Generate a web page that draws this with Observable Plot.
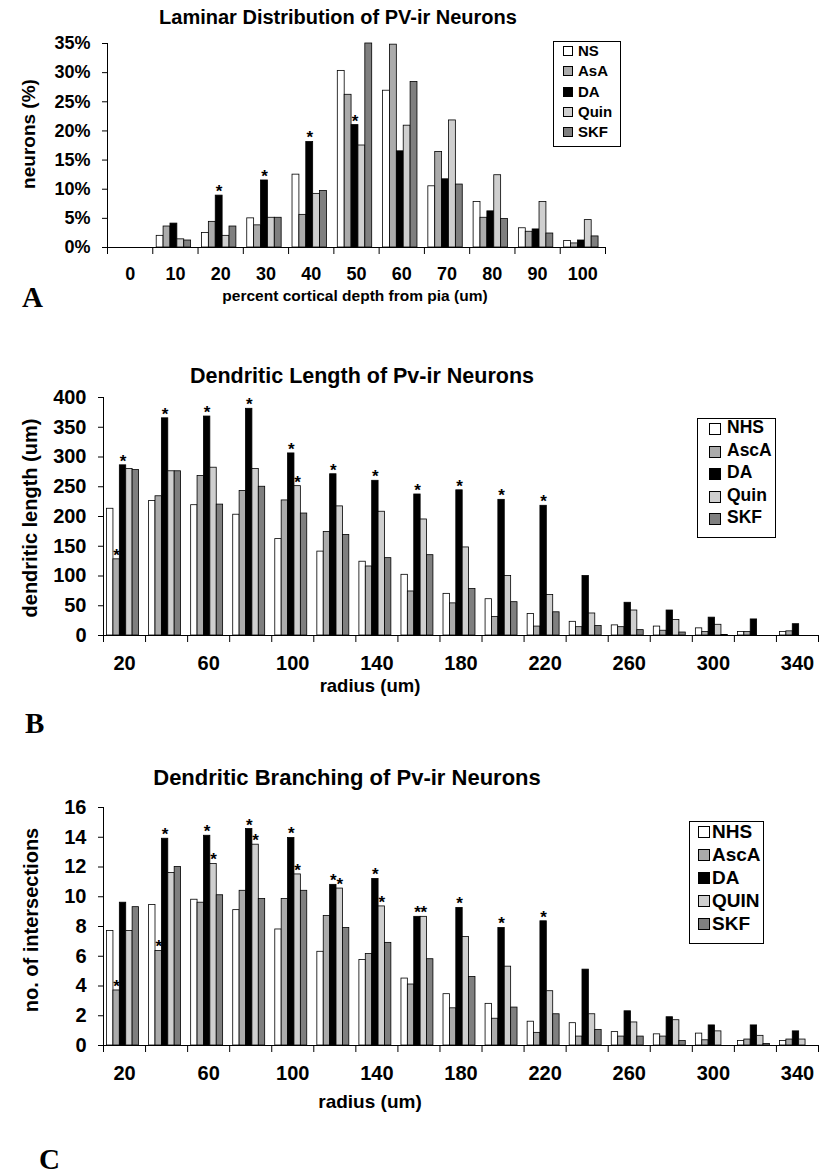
<!DOCTYPE html>
<html><head><meta charset="utf-8">
<script src="https://cdn.jsdelivr.net/npm/d3@7"></script>
<script src="https://cdn.jsdelivr.net/npm/@observablehq/plot@0.6"></script>
<style>
body{margin:0;background:#fff;}
#fig{position:relative;width:825px;height:1174px;overflow:hidden;font-family:"Liberation Sans",Arial,sans-serif;font-weight:bold;color:#000;background:#fff;}
.t{position:absolute;white-space:nowrap;line-height:1;transform:translate(-50%,-50%);}
.l{position:absolute;white-space:nowrap;line-height:1;transform:translate(0,-50%);}
.legend{position:absolute;border:1px solid #000;box-sizing:border-box;background:#fff;}
.sw{position:absolute;border:1px solid #000;box-sizing:border-box;}
</style></head><body><div id="fig"></div>
<script>
// ---------- Panel A: Laminar distribution ----------
const catsA = [0, 10, 20, 30, 40, 50, 60, 70, 80, 90, 100];
const seriesA = ["NS", "AsA", "DA", "Quin", "SKF"];
const nsA   = [0, 2.0, 2.5, 5.0, 12.5, 30.3, 26.9, 10.5, 7.8, 3.3, 1.1];
const asaA  = [0, 3.6, 4.4, 3.8, 5.6, 26.2, 34.8, 16.4, 5.1, 2.7, 0.7];
const daA   = [0, 4.1, 8.9, 11.5, 18.1, 21.0, 16.5, 11.7, 6.2, 3.1, 1.2];
const quinA = [0, 1.4, 2.0, 5.1, 9.2, 17.5, 20.9, 21.8, 12.4, 7.8, 4.7];
const skfA  = [0, 1.2, 3.6, 5.1, 9.7, 35.0, 28.4, 10.8, 4.9, 2.4, 1.9];
const yTicksA = [0, 5, 10, 15, 20, 25, 30, 35];
const xLabelsA = [0, 10, 20, 30, 40, 50, 60, 70, 80, 90, 100];
const starsA = [[20, "DA"], [30, "DA"], [40, "DA"], [50, "DA"]];

// ---------- Panel B: Dendritic length ----------
const catsB = [20, 40, 60, 80, 100, 120, 140, 160, 180, 200, 220, 240, 260, 280, 300, 320, 340];
const seriesB = ["NHS", "AscA", "DA", "Quin", "SKF"];
const nhsB  = [213, 226, 219, 203, 162, 141, 124, 102, 70, 61, 36, 23, 17, 15, 12, 6, 6];
const ascaB = [128, 234, 268, 243, 227, 174, 116, 74, 54, 31, 15, 14, 14, 8, 6, 6, 7];
const daB   = [286, 365, 368, 381, 306, 271, 260, 237, 244, 228, 218, 100, 55, 42, 30, 27, 19];
const quinB = [280, 276, 282, 280, 251, 217, 208, 195, 148, 100, 68, 37, 42, 26, 18, 0, 0];
const skfB  = [278, 276, 220, 250, 205, 169, 130, 135, 78, 56, 39, 16, 9, 5, 1, 0, 0];
const yTicksB = [0, 50, 100, 150, 200, 250, 300, 350, 400];
const xLabelsB = [20, 60, 100, 140, 180, 220, 260, 300, 340];
const starsB = [[20, "AscA"], [20, "DA"], [40, "DA"], [60, "DA"], [80, "DA"], [100, "DA"], [100, "Quin"],
  [120, "DA"], [140, "DA"], [160, "DA"], [180, "DA"], [200, "DA"], [220, "DA"]];

// ---------- Panel C: Dendritic branching ----------
const catsC = [20, 40, 60, 80, 100, 120, 140, 160, 180, 200, 220, 240, 260, 280, 300, 320, 340];
const seriesC = ["NHS", "AscA", "DA", "QUIN", "SKF"];
const nhsC  = [7.7, 9.45, 9.8, 9.1, 7.8, 6.3, 5.75, 4.5, 3.45, 2.8, 1.6, 1.5, 0.9, 0.75, 0.8, 0.3, 0.3];
const ascaC = [3.7, 6.35, 9.6, 10.4, 9.85, 8.7, 6.15, 4.1, 2.5, 1.8, 0.85, 0.6, 0.6, 0.6, 0.35, 0.4, 0.4];
const daC   = [9.6, 13.9, 14.1, 14.55, 13.95, 10.8, 11.2, 8.65, 9.25, 7.9, 8.35, 5.1, 2.3, 1.9, 1.35, 1.35, 0.95];
const quinC = [7.7, 11.6, 12.2, 13.5, 11.5, 10.55, 9.35, 8.65, 7.3, 5.3, 3.65, 2.1, 1.55, 1.7, 0.95, 0.65, 0.4];
const skfC  = [9.3, 12.0, 10.1, 9.85, 10.4, 7.9, 6.9, 5.8, 4.6, 2.55, 2.1, 1.05, 0.6, 0.3, 0, 0.1, 0];
const yTicksC = [0, 2, 4, 6, 8, 10, 12, 14, 16];
const xLabelsC = [20, 60, 100, 140, 180, 220, 260, 300, 340];
const starsC = [[20, "AscA"], [40, "AscA"], [40, "DA"], [60, "DA"], [60, "QUIN"], [80, "DA"], [80, "QUIN"],
  [100, "DA"], [100, "QUIN"], [120, "DA"], [120, "QUIN"], [140, "DA"], [140, "QUIN"],
  [160, "DA"], [160, "QUIN"], [180, "DA"], [200, "DA"], [220, "DA"]];

// ---------- styles ----------
const fills = ["#ffffff", "#ababab", "#000000", "#cfcfcf", "#7f7f7f"];
const FONT = '"Liberation Sans", Arial, sans-serif';
const fig = document.getElementById("fig");

function panel(o) {
  const {top, height, x0, x1, yTop, yBase, cats, step, series, values, yMax, yTicks, yFmt, xLabels, stars, fs, xPad} = o;
  const rows = cats.flatMap((c, j) => series.map((s, i) => ({cat: c, series: s, value: values[i][j]})));
  const lookup = new Map(rows.map(r => [r.cat + "|" + r.series, r.value]));
  const starRows = stars.map(([c, s]) => ({cat: c, series: s, value: lookup.get(c + "|" + s)}));
  const xDomain = [cats[0] - step / 2, cats[cats.length - 1] + step / 2];
  const bounds = cats.map(c => c - step / 2).concat([xDomain[1]]);
  const stepPx = (x1 - x0) / cats.length;
  const bw = stepPx * 0.152;
  const off = -1.5;
  const marks = [];
  series.forEach((s, i) => {
    marks.push(Plot.rectY(rows.filter(r => r.series === s), {
      x1: "cat", x2: "cat", y1: 0, y2: "value",
      fill: fills[i], stroke: "#000", strokeWidth: 0.8,
      insetLeft: (i - 2.5) * bw + off, insetRight: -((i - 1.5) * bw + off)
    }));
  });
  series.forEach((s, i) => {
    const sr = starRows.filter(r => r.series === s);
    if (sr.length) marks.push(Plot.text(sr, {
      x: "cat", y: "value", text: () => "*", dx: (i - 2) * bw + off, dy: -4,
      fontSize: 17, fontWeight: "bold", fill: "#000"
    }));
  });
  marks.push(Plot.ruleY([0], {stroke: "#000", strokeWidth: 1}));
  marks.push(Plot.ruleX([xDomain[0]], {stroke: "#000", strokeWidth: 1}));
  marks.push(Plot.axisY({ticks: yTicks, tickFormat: yFmt, tickSize: 5, tickPadding: 12, fontSize: fs, label: null}));
  marks.push(Plot.axisX({ticks: xLabels, tickFormat: d => String(d), tickSize: 0, tickPadding: xPad, fontSize: fs, label: null}));
  marks.push(Plot.axisX({ticks: bounds, tickFormat: () => "", tickSize: 7, label: null}));
  const svg = Plot.plot({
    width: 825, height,
    marginLeft: x0, marginRight: 825 - x1,
    marginTop: yTop - top, marginBottom: top + height - yBase,
    x: {type: "linear", domain: xDomain},
    y: {domain: [0, yMax]},
    style: {fontFamily: FONT, fontWeight: "bold", background: "transparent", overflow: "visible", color: "#000"},
    marks
  });
  svg.style.position = "absolute";
  svg.style.left = "0px";
  svg.style.top = top + "px";
  fig.appendChild(svg);
}

function text(str, cx, cy, size, opts = {}) {
  const d = document.createElement("div");
  d.className = "t";
  d.textContent = str;
  d.style.left = cx + "px";
  d.style.top = cy + "px";
  d.style.fontSize = size + "px";
  if (opts.rotate) d.style.transform = "translate(-50%,-50%) rotate(-90deg)";
  if (opts.serif) d.style.fontFamily = '"Liberation Serif", "Times New Roman", serif';
  if (opts.left) { d.className = "l"; }
  fig.appendChild(d);
}

function legend(names, box, itemY0, spacing, swLeft, swSize, textLeft, size) {
  const b = document.createElement("div");
  b.className = "legend";
  b.style.left = box[0] + "px"; b.style.top = box[1] + "px";
  b.style.width = (box[2] - box[0]) + "px"; b.style.height = (box[3] - box[1]) + "px";
  fig.appendChild(b);
  names.forEach((n, i) => {
    const cy = itemY0 + i * spacing;
    const s = document.createElement("div");
    s.className = "sw";
    s.style.left = swLeft + "px"; s.style.top = (cy - swSize / 2 + 1) + "px";
    s.style.width = swSize + "px"; s.style.height = swSize + "px";
    s.style.background = fills[i];
    fig.appendChild(s);
    text(n, textLeft, cy, size, {left: true});
  });
}

// Panel A
panel({top: 0, height: 290, x0: 107, x1: 605, yTop: 43, yBase: 247, cats: catsA, step: 10,
  series: seriesA, values: [nsA, asaA, daA, quinA, skfA], yMax: 35, yTicks: yTicksA,
  yFmt: d => d + "%", xLabels: xLabelsA, stars: starsA, fs: 18, xPad: 19.5});
text("Laminar Distribution of PV-ir Neurons", 338, 17, 20);
text("neurons (%)", 28, 134, 19, {rotate: true});
text("percent cortical depth from pia (um)", 355, 296, 15.5);
text("A", 22, 297, 29, {serif: true, left: true});
legend(seriesA, [553, 41, 621, 147], 50, 20.3, 563, 10, 578, 15);

// Panel B
panel({top: 380, height: 300, x0: 103, x1: 818, yTop: 397, yBase: 635, cats: catsB, step: 20,
  series: seriesB, values: [nhsB, ascaB, daB, quinB, skfB], yMax: 400, yTicks: yTicksB,
  yFmt: d => String(d), xLabels: xLabelsB, stars: starsB, fs: 20, xPad: 19.8});
text("Dendritic Length of Pv-ir Neurons", 362, 377, 21.5);
text("dendritic length (um)", 30, 518, 20, {rotate: true});
text("radius (um)", 370, 686, 18.5);
text("B", 25, 723, 29, {serif: true, left: true});
legend(seriesB, [697, 418, 776, 538], 428, 22.5, 709, 12, 727, 17.5);

// Panel C
panel({top: 790, height: 300, x0: 103, x1: 818, yTop: 807, yBase: 1045, cats: catsC, step: 20,
  series: seriesC, values: [nhsC, ascaC, daC, quinC, skfC], yMax: 16, yTicks: yTicksC,
  yFmt: d => String(d), xLabels: xLabelsC, stars: starsC, fs: 20, xPad: 19.8});
text("Dendritic Branching of Pv-ir Neurons", 347, 778, 22);
text("no. of intersections", 31, 920, 20, {rotate: true});
text("radius (um)", 370, 1101, 19);
text("C", 39, 1159, 29, {serif: true, left: true});
legend(seriesC, [689, 821, 764, 944], 831, 23, 698, 12, 712, 19);
</script></body></html>
